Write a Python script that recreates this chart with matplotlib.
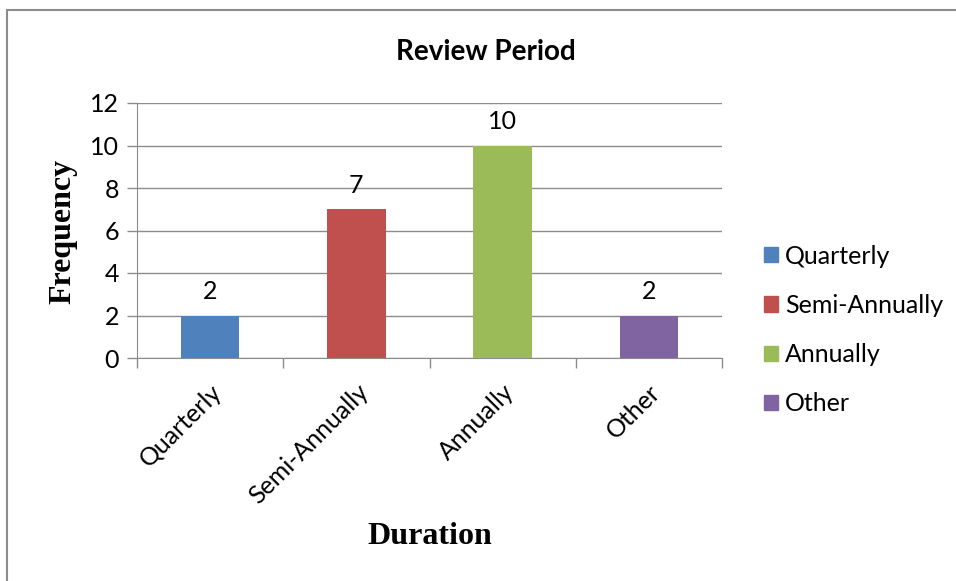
import matplotlib
matplotlib.use('Agg')
import matplotlib.pyplot as plt
import matplotlib.patches as mpatches

# data
categories = ['Quarterly', 'Semi-Annually', 'Annually', 'Other']
frequency = [2, 7, 10, 2]
colors = ['#4F81BD', '#C0504D', '#9BBB59', '#8064A2']

sans = ['Lato', 'DejaVu Sans']
serif = ['Liberation Serif', 'DejaVu Serif']
grey = '#8c8c8c'

fig = plt.figure(figsize=(9.56, 5.81), dpi=100)
ax = fig.add_axes([137 / 956, 1 - 358 / 581, (722 - 137) / 956, (358 - 103) / 581])

xs = list(range(len(categories)))
ax.bar(xs, frequency, width=0.4, color=colors, zorder=3)
for x, v in zip(xs, frequency):
    ax.annotate(str(v), (x, v), xytext=(0, 9), textcoords='offset points',
                ha='center', va='bottom', fontsize=18, family=sans)

ax.set_xlim(-0.5, len(categories) - 0.5)
ax.set_ylim(0, 12)
ax.set_yticks(range(0, 13, 2))
ax.yaxis.grid(True, color=grey, linewidth=1, zorder=0)
ax.set_axisbelow(True)

# boundary ticks without labels, labels at category centres
ax.set_xticks([i - 0.5 for i in range(len(categories) + 1)])
ax.set_xticklabels([])
ax.set_xticks(xs, minor=True)
ax.set_xticklabels(categories, minor=True, rotation=45, ha='right',
                   rotation_mode='anchor', fontsize=18, family=sans)
ax.tick_params(axis='x', which='major', length=7, color=grey, width=1)
ax.tick_params(axis='x', which='minor', length=0, pad=16)
ax.tick_params(axis='y', length=7, color=grey, width=1, labelsize=18, pad=6)
for lab in ax.get_yticklabels():
    lab.set_family(sans)

for s in ['top', 'right']:
    ax.spines[s].set_visible(False)
for s in ['left', 'bottom']:
    ax.spines[s].set_color(grey)

fig.text(486 / 956, 1 - 52 / 581, 'Review Period', ha='center', va='center',
         fontsize=20, fontweight='bold', family=sans)
fig.text(63 / 956, 1 - 231 / 581, 'Frequency', rotation=90, ha='center', va='center',
         fontsize=23, fontweight='bold', family=serif)
fig.text(430 / 956, 1 - 536 / 581, 'Duration', ha='center', va='center',
         fontsize=23, fontweight='bold', family=serif)

handles = [mpatches.Patch(color=c, label=l) for c, l in zip(colors, categories)]
leg = fig.legend(handles=handles, loc='center left', bbox_to_anchor=(764 / 956, 1 - 330 / 581),
                 frameon=False, borderpad=0, borderaxespad=0,
                 handlelength=0.56, handleheight=0.56, handletextpad=0.28,
                 labelspacing=1.05, prop={'family': sans, 'size': 18})

# outer chart border (cropped on right and bottom)
fig.patches.append(mpatches.Rectangle((7 / 956, -0.05), 1.1, 1.05 - 10 / 581,
                                      transform=fig.transFigure, fill=False,
                                      edgecolor=grey, linewidth=1.5))

fig.savefig('out.png', dpi=100)
